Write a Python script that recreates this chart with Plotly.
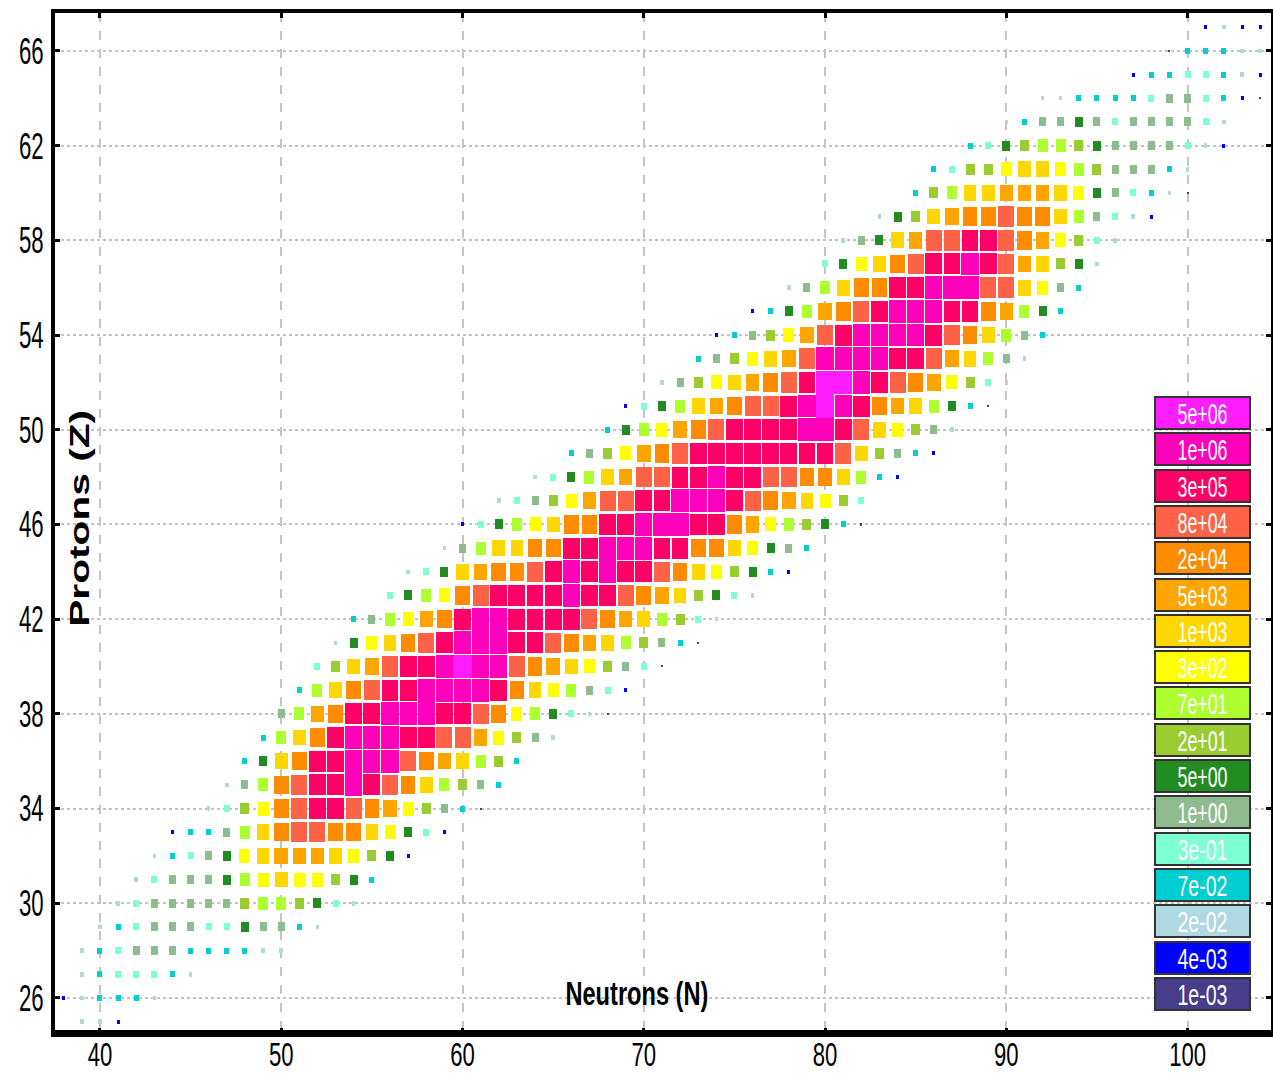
import plotly.graph_objects as go

# Yield classes, lowest to highest (one letter code each)
LEVEL_CODES = list("abcdefghijklmnopq")
LEVEL_LABELS = ["1e-03", "4e-03", "2e-02", "7e-02", "3e-01", "1e+00", "5e+00", "2e+01", "7e+01",
                "3e+02", "1e+03", "5e+03", "2e+04", "8e+04", "3e+05", "1e+06", "5e+06"]

# One entry per proton number: first neutron number and the class of each successive isotope
ROW_Z = list(range(25, 68))
ROW_FIRST_N = [39, 38, 39, 39, 40, 41, 42, 43, 44, 46, 47, 48, 49, 50, 51, 52, 53, 54, 56, 57, 59, 60,
               62, 64, 66, 68, 69, 71, 73, 74, 76, 78, 80, 81, 83, 85, 86, 88, 90, 92, 97, 99, 101]
ROW_CLASSES = [
    "ccb", "bcdddc", "cdeeedc", "cdefffddddcc", "cdefffeegffdc", "cefffffhiihgec",
    "cefffgijkjjhgd", "cdefgjklllkjhgb", "bddfikmnnmmkjgeb", "cehjmnoonmljhfda",
    "cfimnooponmkihfd", "dgkmoopppnmlkihd", "dikmopppoonnljhfc", "filmoopppoonmjigeca",
    "dikmnooppppomkjifeb", "ehklnoopqppnmlkjhfea", "cgjkmnopppoonmlkihfda",
    "dfijlmoppoooonmlkihec", "egijmnoooopoonmlkhgec", "cegklmmnopopoonmkjhgdb",
    "cfikkmmoopppoommkjgfd", "begijkmmoopppoomljihgda", "cefhjlnnooppponmlkjhe",
    "cegiklnnoopoonnmmkidb", "dfhjlmnoooooooonkhfdb", "dgijlmnoooopponkjhfc",
    "begiklmnnopqpomlkigda", "cfhjklmnoqqponmljhec", "dfhjklnppppoonlkifc",
    "bdfhjlnopppponmkifd", "bdgilmnopppoomligd", "cfikmmoopppnnkjfd",
    "egjkmnooponlkhgc", "cfgklnnoonmljhec", "cghklmmnmmkifecb", "dhikklllkjgfedca",
    "dehhjkkjihfffdc", "deghiihgffffecb", "cdffgfeffffec", "ccddddeffedba",
    "bddeedcb", "adddcc", "bcbb",
]

X_TICKS = [40, 50, 60, 70, 80, 90, 100]
Y_TICKS = [26, 30, 34, 38, 42, 46, 50, 54, 58, 62, 66]

# Styling
COLORS = ["#483D8B", "#0000FF", "#B0D8E0", "#00CED1", "#7FFFD4", "#8FBC8F", "#228B22", "#9ACD32",
          "#ADFF2F", "#FFFF00", "#FFD700", "#FFA500", "#FF8C00", "#FF6347", "#FF0066", "#FF00BB", "#FF1CFF"]
CELL_W = [2, 3, 3.5, 5, 6, 7, 8, 9, 10, 11, 12.7, 13.5, 14.7, 16, 16.8, 17.2, 18.13]
CELL_H = [2, 4, 4.5, 6, 7, 9, 10, 11, 13, 14, 15.7, 16.5, 18.5, 20.5, 21, 22.8, 23.68]
PX_X, PX_Y = 18.13, 23.68

W, H = 1273, 1074
L, R, T, B = 55, 1271, 13, 1033

fig = go.Figure()
for k, code in enumerate(LEVEL_CODES):
    xs, zs = [], []
    for z, n0, row in zip(ROW_Z, ROW_FIRST_N, ROW_CLASSES):
        for i, c in enumerate(row):
            if c == code:
                xs.append(n0 + i)
                zs.append(z)
    h = CELL_H[k] / PX_Y
    fig.add_trace(go.Bar(
        x=xs, y=[h] * len(xs), base=[z - h / 2 for z in zs],
        width=CELL_W[k] / PX_X, marker=dict(color=COLORS[k], line_width=0),
        name=LEVEL_LABELS[k], showlegend=False,
        customdata=zs, hovertemplate="N=%{x} Z=%{customdata}<extra>" + LEVEL_LABELS[k] + "</extra>",
    ))

SANS = "Liberation Sans, Arial, sans-serif"
axis_common = dict(
    showline=True, linecolor="black", linewidth=4, mirror="allticks", automargin=False,
    ticks="inside", ticklen=5, tickwidth=3, tickcolor="black",
    showgrid=True, gridcolor="#C4C4C4", gridwidth=1.5, zeroline=False,
)
fig.update_xaxes(range=[37.52, 104.6], tickvals=X_TICKS, griddash="dash", ticklabelstandoff=-12,
                 tickfont=dict(family=SANS, size=34, color="black"), **axis_common)
fig.update_yaxes(range=[24.52, 67.6], tickvals=Y_TICKS, griddash="dot", ticklabelstandoff=0,
                 tickfont=dict(family=SANS, size=37, color="black"), **axis_common)

annotations = [
    dict(x=637, y=993, text="<b>Neutrons (N)</b>", font=dict(family=SANS, size=33, color="black")),
    dict(x=79, y=519, text="<b>Protons (Z)</b>", textangle=-90,
         font=dict(family=SANS, size=28, color="black")),
]
for a in annotations:
    a.update(xref="paper", yref="paper", showarrow=False, xanchor="center", yanchor="middle")
    a["x"] = (a["x"] - L) / (R - L)
    a["y"] = (B - a["y"]) / (B - T)

# Colour key, highest class on top
KEY_TOP, KEY_STEP, KEY_H, KEY_W, KEY_CX = 413, 36.3, 34, 97, 1202.5
for idx, k in enumerate(reversed(range(len(LEVEL_LABELS)))):
    cy = KEY_TOP + idx * KEY_STEP
    annotations.append(dict(
        xref="paper", yref="paper", x=(KEY_CX - L) / (R - L), y=(B - cy) / (B - T),
        xanchor="center", yanchor="middle", showarrow=False,
        text=LEVEL_LABELS[k], width=KEY_W - 4, height=KEY_H - 4, borderpad=0,
        bgcolor=COLORS[k], bordercolor="#333333", borderwidth=2,
        font=dict(family=SANS, size=30, color="white"),
    ))

fig.update_layout(
    width=W, height=H, margin=dict(l=L, r=W - R, t=T, b=H - B, pad=0),
    paper_bgcolor="white", plot_bgcolor="white",
    barmode="overlay", bargap=0, annotations=annotations, showlegend=False,
    shapes=[dict(type="line", xref="paper", yref="paper", x0=0, x1=1, y0=0, y1=0,
                 line=dict(color="black", width=6))],
)

# The reference's lettering is horizontally squeezed (or stretched): keep real text, scale its run length.
POST = """
document.body.style.margin='0';document.body.style.overflow='hidden';
var gd=document.getElementById('{plot_id}');
function fit(t,f){var n=t.getComputedTextLength();t.setAttribute('lengthAdjust','spacingAndGlyphs');t.setAttribute('textLength',f(n));}
gd.querySelectorAll('.xtick text').forEach(function(t){fit(t,function(n){return n*0.65;});});
gd.querySelectorAll('.ytick text').forEach(function(t){fit(t,function(n){return n*0.6;});});
gd.querySelectorAll('.annotation-text').forEach(function(t){
  var s=t.textContent;
  if(s.indexOf('Neutrons')===0){fit(t,function(){return 143;});}
  else if(s.indexOf('Protons')===0){fit(t,function(){return 217;});}
  else{fit(t,function(){return 50;});}
});
"""
fig.write_html("out.html", config={"displayModeBar": False}, post_script=POST)
